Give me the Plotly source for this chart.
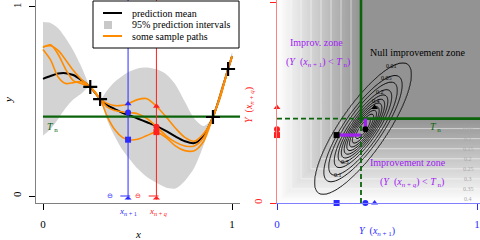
import numpy as np
import plotly.graph_objects as go

# ---------------- left panel data (GP prediction) ----------------
x_grid = [0, 0.04, 0.08, 0.12, 0.16, 0.2, 0.25, 0.302, 0.34, 0.38, 0.42, 0.45,
          0.5, 0.55, 0.6, 0.65, 0.7, 0.75, 0.8, 0.85, 0.899, 0.94, 0.979, 1.0]
pred_mean = [0.62, 0.635, 0.648, 0.65, 0.64, 0.615, 0.577, 0.513, 0.48, 0.46, 0.44, 0.43,
             0.41, 0.39, 0.37, 0.345, 0.315, 0.29, 0.28, 0.32, 0.418, 0.54, 0.672, 0.74]
half_width = [0.30, 0.28, 0.24, 0.185, 0.13, 0.075, 0.0, 0.0, 0.08, 0.145, 0.195, 0.225,
              0.265, 0.29, 0.30, 0.30, 0.275, 0.21, 0.13, 0.05, 0.0, 0.03, 0.0, 0.02]
path_triangle = [0.79, 0.795, 0.77, 0.72, 0.665, 0.62, 0.577, 0.513, 0.49, 0.478, 0.48, 0.488,
                 0.51, 0.515, 0.475, 0.42, 0.36, 0.31, 0.29, 0.33, 0.418, 0.545, 0.672, 0.74]
path_circle = [0.785, 0.80, 0.75, 0.67, 0.61, 0.595, 0.577, 0.513, 0.47, 0.452, 0.445, 0.442,
               0.435, 0.41, 0.367, 0.32, 0.285, 0.265, 0.265, 0.31, 0.418, 0.535, 0.672, 0.74]
path_square = [0.775, 0.72, 0.63, 0.595, 0.60, 0.605, 0.577, 0.513, 0.42, 0.35, 0.31, 0.298,
               0.30, 0.32, 0.338, 0.31, 0.265, 0.24, 0.24, 0.29, 0.418, 0.53, 0.672, 0.74]
obs_x = [0.25, 0.302, 0.899, 0.979]
obs_y = [0.577, 0.513, 0.418, 0.672]
T_n = 0.42
x_next1 = 0.45
x_nextq = 0.60
tick_vals = [0, 1]
tick_text = ["0", "1"]

# ---------------- right panel data ----------------
sample_symbols = ["triangle-up", "circle", "square"]
Y_next1 = [0.488, 0.442, 0.298]   # Y(x_{n+1}) of the three sample paths
Y_nextq = [0.475, 0.367, 0.338]   # Y(x_{n+q}) of the three sample paths
gauss_mean = [0.43, 0.37]
gauss_sd = [0.08, 0.108]
gauss_rho = 0.82
density_levels = [0.01, 0.05, 0.1, 0.2, 0.3, 0.4, 0.5, 0.6, 0.7, 0.8, 0.9]
density_labels_upper = [0.01, 0.05, 0.2, 0.4]
density_labels_lower = [0.1, 0.3]
improvement_levels = [0.05, 0.1, 0.15, 0.2, 0.25, 0.3, 0.35, 0.4]

SERIF = "Liberation Serif"
BLUE = "#2b2bff"
RED = "#ff2020"
GREEN = "#0b640b"
ORANGE = "#ff8c00"
PURPLE = "#a020f0"

upper = [m + h for m, h in zip(pred_mean, half_width)]
lower = [m - h for m, h in zip(pred_mean, half_width)]

fig = go.Figure()

# ---------- left panel ----------
fig.add_trace(go.Scatter(x=x_grid + x_grid[::-1], y=upper + lower[::-1], mode="lines",
                         fill="toself", fillcolor="#d3d3d3",
                         line=dict(width=0, shape="spline", smoothing=0.8),
                         hoverinfo="skip", xaxis="x", yaxis="y"))
fig.add_trace(go.Scatter(x=x_grid, y=pred_mean, mode="lines",
                         line=dict(color="black", width=2, shape="spline", smoothing=0.8),
                         xaxis="x", yaxis="y"))
for p in (path_triangle, path_circle, path_square):
    fig.add_trace(go.Scatter(x=x_grid, y=p, mode="lines",
                             line=dict(color=ORANGE, width=1.6, shape="spline", smoothing=0.8),
                             xaxis="x", yaxis="y"))
fig.add_trace(go.Scatter(x=[0, 1.042], y=[T_n, T_n], mode="lines",
                         line=dict(color=GREEN, width=2.2), xaxis="x", yaxis="y"))
fig.add_trace(go.Scatter(x=[x_next1, x_next1], y=[0, 1.04], mode="lines",
                         line=dict(color=BLUE, width=1), xaxis="x", yaxis="y"))
fig.add_trace(go.Scatter(x=[x_nextq, x_nextq], y=[0, 1.04], mode="lines",
                         line=dict(color=RED, width=1), xaxis="x", yaxis="y"))
fig.add_trace(go.Scatter(x=[x_next1] * 3, y=Y_next1, mode="markers",
                         marker=dict(color=BLUE, size=6, symbol=sample_symbols),
                         xaxis="x", yaxis="y"))
fig.add_trace(go.Scatter(x=[x_nextq] * 3, y=Y_nextq, mode="markers",
                         marker=dict(color=RED, size=6, symbol=sample_symbols),
                         xaxis="x", yaxis="y"))
fig.add_trace(go.Scatter(x=obs_x, y=obs_y, mode="markers",
                         marker=dict(color="black", size=10, symbol="cross-thin",
                                     line=dict(color="black", width=2.2)),
                         xaxis="x", yaxis="y"))
# small bars at the foot of the vertical lines
fig.add_trace(go.Scatter(x=[x_next1 - 0.015, x_nextq - 0.015], y=[0, 0], mode="markers",
                         marker=dict(symbol="line-ew", size=7, color=[BLUE, RED],
                                     line=dict(color=[BLUE, RED], width=1)),
                         cliponaxis=False, xaxis="x", yaxis="y"))

# ---------- right panel ----------
gx = np.linspace(0, 1.015, 204)
gy = np.linspace(0, 1.01, 203)
improvement = np.maximum(0.0, T_n - np.minimum.outer(gy, gx))
fig.add_trace(go.Heatmap(x=gx, y=gy, z=improvement, zmin=0, zmax=T_n,
                         colorscale=[[0, "#939393"], [1, "#ffffff"]], showscale=False,
                         hoverinfo="skip", xaxis="x2", yaxis="y2"))
fig.add_trace(go.Contour(x=gx, y=gy, z=improvement,
                         contours=dict(start=improvement_levels[0], end=improvement_levels[-1],
                                       size=improvement_levels[1] - improvement_levels[0],
                                       coloring="none"),
                         line=dict(color="rgba(255,255,255,0.55)", width=1), showscale=False,
                         hoverinfo="skip", xaxis="x2", yaxis="y2"))

# bivariate gaussian of (Y(x_{n+1}), Y(x_{n+q}))
ex = np.linspace(0.05, 0.85, 161)
ey = np.linspace(-0.1, 0.85, 191)
EX, EY = np.meshgrid(ex, ey)
u = (EX - gauss_mean[0]) / gauss_sd[0]
v = (EY - gauss_mean[1]) / gauss_sd[1]
q = (u * u - 2 * gauss_rho * u * v + v * v) / (1 - gauss_rho ** 2)
dens = np.exp(-q / 2)
level_index = np.interp(dens, [0.0] + density_levels + [1.0],
                        [-1.0] + list(range(len(density_levels))) + [len(density_levels)])
fig.add_trace(go.Contour(x=ex, y=ey, z=level_index,
                         contours=dict(start=0, end=len(density_levels) - 1, size=1, coloring="none"),
                         line=dict(color="black", width=0.9), showscale=False,
                         hoverinfo="skip", xaxis="x2", yaxis="y2"))

# green threshold lines
fig.add_trace(go.Scatter(x=[T_n, T_n, None, T_n, 1.015], y=[1.01, T_n, None, T_n, T_n], mode="lines",
                         line=dict(color=GREEN, width=2.6), xaxis="x2", yaxis="y2"))
fig.add_trace(go.Scatter(x=[T_n, T_n, None, 0, T_n], y=[0, T_n, None, T_n, T_n], mode="lines",
                         line=dict(color=GREEN, width=1.8, dash="5px,3px"), xaxis="x2", yaxis="y2"))

# improvement segments
seg_x, seg_y = [], []
for a, b in zip(Y_next1, Y_nextq):
    if min(a, b) < T_n:
        if a <= b:
            seg_x += [a, T_n, None]; seg_y += [b, b, None]
        else:
            seg_x += [a, a, None]; seg_y += [b, T_n, None]
fig.add_trace(go.Scatter(x=seg_x, y=seg_y, mode="lines", line=dict(color=PURPLE, width=3.2),
                         xaxis="x2", yaxis="y2"))
fig.add_trace(go.Scatter(x=Y_next1, y=Y_nextq, mode="markers",
                         marker=dict(color="black", size=6, symbol=sample_symbols),
                         xaxis="x2", yaxis="y2"))
fig.add_trace(go.Scatter(x=Y_next1, y=[0] * 3, mode="markers", cliponaxis=False,
                         marker=dict(color=BLUE, size=6, symbol=sample_symbols),
                         xaxis="x2", yaxis="y2"))
fig.add_trace(go.Scatter(x=[0] * 3, y=Y_nextq, mode="markers", cliponaxis=False,
                         marker=dict(color=RED, size=6, symbol=sample_symbols),
                         xaxis="x2", yaxis="y2"))

# ---------- annotations ----------
ann = []

def A(text, x, y, xref="x2", yref="y2", size=10, color="black", angle=0, xanchor="center", **kw):
    ann.append(dict(text=text, x=x, y=y, xref=xref, yref=yref, showarrow=False,
                    font=dict(family=SERIF, size=size, color=color), textangle=angle,
                    xanchor=xanchor, yanchor="middle", **kw))

# density contour labels along rays
cov = np.array([[gauss_sd[0] ** 2, gauss_rho * gauss_sd[0] * gauss_sd[1]],
                [gauss_rho * gauss_sd[0] * gauss_sd[1], gauss_sd[1] ** 2]])
icov = np.linalg.inv(cov)
for labels, d in ((density_labels_upper, np.array([0.13, 0.28])),
                  (density_labels_lower, np.array([-0.105, -0.19]))):
    s0 = 1.0 / np.sqrt(d @ icov @ d)
    for lv in labels:
        r = np.sqrt(-2 * np.log(lv))
        px, py = np.array(gauss_mean) + r * s0 * d
        A(f"{lv:g}", px, py, size=6, color="black")

# improvement contour labels on right border
for c in improvement_levels:
    A(f"{c:g}", 0.955, T_n - c, size=6, color="#a8a8a8")

Tn_txt = "<i>T</i><sub> n</sub>"
A("Improv. zone", 0.195, 0.80, size=10, color=PURPLE)
A("(<i>Y</i>  (<i>x</i><sub><i>n</i> + 1</sub>) &lt; " + Tn_txt + ")", 0.205, 0.70, size=10, color=PURPLE)
A("Null improvement zone", 0.705, 0.75, size=10, color="black")
A("Improvement zone", 0.655, 0.204, size=10, color=PURPLE)
A("(<i>Y</i>  (<i>x</i><sub><i>n</i> + <i>q</i></sub>) &lt; " + Tn_txt + ")", 0.675, 0.104, size=10, color=PURPLE)
A(Tn_txt, 0.79, 0.378, size=10, color=GREEN)
A(Tn_txt, 0.048, 0.365, xref="x", yref="y", size=10, color=GREEN)

# axis titles and bottom labels (paper coords)
def P(text, px, py, **kw):
    A(text, px / 480, 1 - py / 240, xref="paper", yref="paper", **kw)

P("<i>x</i>", 138, 234, size=11)
P("<i>y</i>", 8, 100, size=11, angle=-90)
P("<i>Y</i>  (<i>x</i><sub><i>n</i> + 1</sub>)", 377, 231, size=10, color=BLUE)
P("<i>Y</i>  (<i>x</i><sub><i>n</i> + <i>q</i></sub>)", 249, 105, size=10, color=RED, angle=-90)
P("<i>x</i><sub><i>n</i> + 1</sub>", 128, 211, size=9, color=BLUE)
P("<i>x</i><sub><i>n</i> + <i>q</i></sub>", 158, 211, size=9, color=RED)
P("⊖", 110, 196, size=7, color=BLUE)
P("⊖", 138, 196, size=7, color=RED)

# up-arrow heads at foot of vertical lines
for xv, col in ((x_next1, BLUE), (x_nextq, RED)):
    ann.append(dict(x=xv, y=0, xref="x", yref="y", ax=0, ay=5, showarrow=True, text="",
                    arrowhead=1, arrowsize=1.2, arrowwidth=1, arrowcolor=col, standoff=0))

# legend (manual)
L = [
    ("prediction mean", 13),
    ("95% prediction intervals", 25),
    ("some sample paths", 36),
]
for txt, yy in L:
    P(txt, 130, yy, size=10, xanchor="left")

shapes = [
    dict(type="rect", xref="paper", yref="paper", x0=93 / 480, x1=239 / 480,
         y0=1 - 48 / 240, y1=1 - 1 / 240, line=dict(color="black", width=1),
         fillcolor="white", layer="above"),
    dict(type="line", xref="paper", yref="paper", x0=103 / 480, x1=122 / 480,
         y0=1 - 13 / 240, y1=1 - 13 / 240, line=dict(color="black", width=2), layer="above"),
    dict(type="rect", xref="paper", yref="paper", x0=104 / 480, x1=112 / 480,
         y0=1 - 29 / 240, y1=1 - 21 / 240, line=dict(width=0), fillcolor="#c8c8c8", layer="above"),
    dict(type="line", xref="paper", yref="paper", x0=103 / 480, x1=122 / 480,
         y0=1 - 36 / 240, y1=1 - 36 / 240, line=dict(color=ORANGE, width=2), layer="above"),
]

axis_common = dict(showgrid=False, zeroline=False, showline=True, linewidth=1,
                   ticks="outside", ticklen=6, tickvals=tick_vals, ticktext=tick_text,
                   fixedrange=True, automargin=False)

fig.update_layout(
    width=480, height=240, margin=dict(l=0, r=0, t=0, b=0, autoexpand=False),
    paper_bgcolor="white", plot_bgcolor="white", showlegend=False,
    font=dict(family=SERIF, size=10, color="black"),
    xaxis=dict(domain=[36 / 480, 240 / 480], range=[-0.037, 1.042], anchor="y",
               linecolor="#808080", tickcolor="black", ticklabelstandoff=5,
               tickfont=dict(family=SERIF, size=11), **axis_common),
    yaxis=dict(domain=[1 - 203 / 240, 1], range=[-0.037, 1.037], anchor="x",
               linecolor="#808080", tickcolor="black", tickangle=-90, ticklabelstandoff=4,
               tickfont=dict(family=SERIF, size=11), **axis_common),
    xaxis2=dict(domain=[277 / 480, 1], range=[0, 1.015], anchor="y2",
                linecolor="#7f7fff", tickcolor=BLUE, ticklabelstandoff=5,
                tickfont=dict(family=SERIF, size=11, color=BLUE), **axis_common),
    yaxis2=dict(domain=[1 - 203 / 240, 1], range=[0, 1.01], anchor="x2",
                linecolor="#ff8080", tickcolor=RED, tickangle=-90, ticklabelstandoff=4,
                tickfont=dict(family=SERIF, size=11, color=RED), **axis_common),
    annotations=ann, shapes=shapes,
)

fig.write_html("out.html", config={"displayModeBar": False},
               post_script="document.body.style.margin='0';document.body.style.overflow='hidden';")
